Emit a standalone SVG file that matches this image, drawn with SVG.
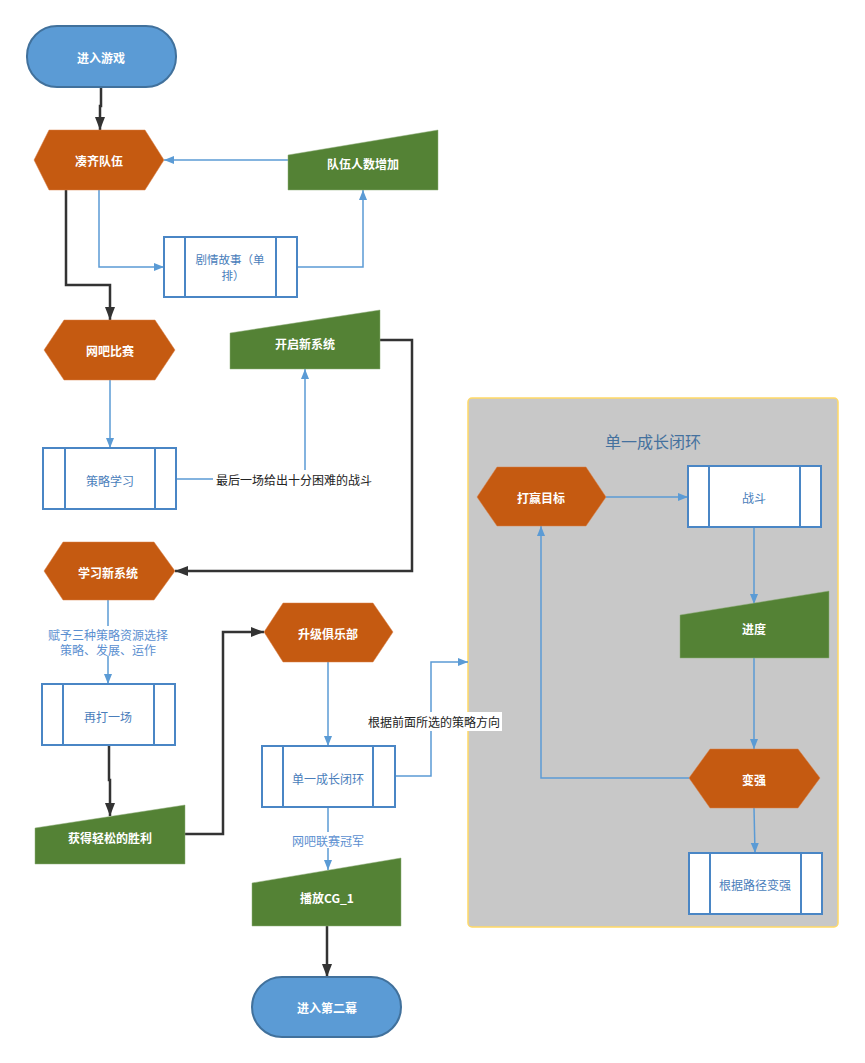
<svg xmlns="http://www.w3.org/2000/svg" width="865" height="1063" viewBox="0 0 865 1063">
<style>
text{font-family:"Noto Sans CJK SC","Noto Sans",sans-serif;font-size:12px;text-anchor:middle;dominant-baseline:central}
.term{fill:#5b9bd5;stroke:#41719c;stroke-width:2}
.hex{fill:#c55a11;stroke:#d9804a;stroke-width:0.5}
.man{fill:#548235;stroke:#8fad7a;stroke-width:0.5}
.box{fill:#fff;stroke:#4a86c5;stroke-width:2}
.wt{fill:#fff;font-weight:bold}
.bt{fill:#4a7ebb}
.lb{fill:#5b8fd0}
.kt{fill:#222}
.blue{fill:none;stroke:#5b9bd5;stroke-width:1.5}
.black{fill:none;stroke:#333;stroke-width:2.5}
.bg{fill:#fff}
</style>
<defs>
<marker id="ab" markerUnits="userSpaceOnUse" markerWidth="10" markerHeight="10" refX="10" refY="5" orient="auto"><path d="M0,1 L10,5 L0,9 z" fill="#5b9bd5"/></marker>
<marker id="ak" markerUnits="userSpaceOnUse" markerWidth="13" markerHeight="12" refX="13" refY="6" orient="auto"><path d="M0,1 L13,6 L0,11 z" fill="#333"/></marker>
</defs>
<rect width="865" height="1063" fill="#fff"/>
<g id="container">
<rect x="468" y="398" width="370" height="529" rx="4" fill="#c8c8c8" stroke="#ffd966" stroke-width="1.5"/>
<text x="653" y="441" style="font-size:16px;fill:#44719e">单一成长闭环</text>
</g>
<g id="connectors">
<path class="black" d="M101,87 V106 H100 V130" marker-end="url(#ak)"/>
<path class="black" d="M66,190 V285 H110 V320" marker-end="url(#ak)"/>
<path class="black" d="M380,340 H412 V571 H175" marker-end="url(#ak)"/>
<path class="black" d="M109,745 V780 H110 V816" marker-end="url(#ak)"/>
<path class="black" d="M185,834 H223 V632 H264" marker-end="url(#ak)"/>
<path class="black" d="M327,926 V977" marker-end="url(#ak)"/>
<path class="blue" d="M288,160 H164" marker-end="url(#ab)"/>
<path class="blue" d="M99,190 V267 H164" marker-end="url(#ab)"/>
<path class="blue" d="M297,267 H363 V190" marker-end="url(#ab)"/>
<path class="blue" d="M110,380 V448" marker-end="url(#ab)"/>
<path class="blue" d="M176,479 H305 V369" marker-end="url(#ab)"/>
<path class="blue" d="M108,600 V684" marker-end="url(#ab)"/>
<path class="blue" d="M328,662 V746" marker-end="url(#ab)"/>
<path class="blue" d="M395,776 H431 V662 H468" marker-end="url(#ab)"/>
<path class="blue" d="M328,807 V870" marker-end="url(#ab)"/>
<path class="blue" d="M606,497 H688" marker-end="url(#ab)"/>
<path class="blue" d="M754,527 V604" marker-end="url(#ab)"/>
<path class="blue" d="M754,658 V749" marker-end="url(#ab)"/>
<path class="blue" d="M689,778 H541 V526" marker-end="url(#ab)"/>
<path class="blue" d="M754,808 L755,853" marker-end="url(#ab)"/>
<rect class="bg" x="213" y="470" width="161" height="18"/>
<text class="kt" x="294" y="479">最后一场给出十分困难的战斗</text>
<rect class="bg" x="48" y="626" width="121" height="30"/>
<text class="lb" x="108" y="634">赋予三种策略资源选择</text>
<text class="lb" x="108" y="649">策略、发展、运作</text>
<rect class="bg" x="366" y="712" width="136" height="19"/>
<text class="kt" x="434" y="721">根据前面所选的策略方向</text>
<rect class="bg" x="290" y="832" width="76" height="16"/>
<text class="lb" x="328" y="840">网吧联赛冠军</text>
</g>
<g id="n-start">
<rect class="term" x="27" y="26" width="149" height="61" rx="30"/>
<text class="wt" x="101" y="57">进入游戏</text>
</g>
<g id="n-team">
<polygon class="hex" points="34,160 49,130 145,130 164,160 145,190 49,190"/>
<text class="wt" x="99" y="160">凑齐队伍</text>
</g>
<g id="n-teamup">
<polygon class="man" points="288,155 438,130 438,190 288,190"/>
<text class="wt" x="363" y="163">队伍人数增加</text>
</g>
<g id="n-story">
<rect class="box" x="164" y="237" width="133" height="60"/>
<path class="box" d="M185,237 V297 M276,237 V297"/>
<text class="bt" x="230" y="259" style="font-size:11.5px">剧情故事（单</text>
<text class="bt" x="233" y="275" style="font-size:11.5px">排）</text>
</g>
<g id="n-netbar">
<polygon class="hex" points="44,350 64,320 155,320 175,350 155,380 64,380"/>
<text class="wt" x="110" y="350">网吧比赛</text>
</g>
<g id="n-newsys">
<polygon class="man" points="230,333 380,310 380,369 230,369"/>
<text class="wt" x="305" y="343">开启新系统</text>
</g>
<g id="n-strategy">
<rect class="box" x="43" y="448" width="133" height="61"/>
<path class="box" d="M65,448 V509 M155,448 V509"/>
<text class="bt" x="110" y="480">策略学习</text>
</g>
<g id="n-learn">
<polygon class="hex" points="44,571 63,542 154,542 175,571 154,600 63,600"/>
<text class="wt" x="108" y="572">学习新系统</text>
</g>
<g id="n-again">
<rect class="box" x="42" y="684" width="133" height="61"/>
<path class="box" d="M63,684 V745 M154,684 V745"/>
<text class="bt" x="108" y="716">再打一场</text>
</g>
<g id="n-win">
<polygon class="man" points="35,828 185,805 185,864 35,864"/>
<text class="wt" x="110" y="837">获得轻松的胜利</text>
</g>
<g id="n-club">
<polygon class="hex" points="264,632 283,603 373,603 393,632 373,662 283,662"/>
<text class="wt" x="328" y="633">升级俱乐部</text>
</g>
<g id="n-loop">
<rect class="box" x="262" y="746" width="133" height="61"/>
<path class="box" d="M283,746 V807 M373,746 V807"/>
<text class="bt" x="328" y="778">单一成长闭环</text>
</g>
<g id="n-cg">
<polygon class="man" points="252,883 401,858 401,926 252,926"/>
<text class="wt" x="327" y="897">播放CG_1</text>
</g>
<g id="n-end">
<rect class="term" x="252" y="977" width="149" height="60" rx="30"/>
<text class="wt" x="327" y="1007">进入第二幕</text>
</g>
<g id="n-target">
<polygon class="hex" points="477,497 497,467 586,467 606,497 586,526 497,526"/>
<text class="wt" x="541" y="497">打赢目标</text>
</g>
<g id="n-fight">
<rect class="box" x="688" y="466" width="133" height="61"/>
<path class="box" d="M709,466 V527 M800,466 V527"/>
<text class="bt" x="754" y="497">战斗</text>
</g>
<g id="n-progress">
<polygon class="man" points="680,615 829,591 829,658 680,658"/>
<text class="wt" x="754" y="628">进度</text>
</g>
<g id="n-stronger">
<polygon class="hex" points="689,778 710,749 798,749 820,778 798,808 710,808"/>
<text class="wt" x="754" y="779">变强</text>
</g>
<g id="n-path">
<rect class="box" x="689" y="853" width="133" height="61"/>
<path class="box" d="M710,853 V914 M801,853 V914"/>
<text class="bt" x="755" y="884">根据路径变强</text>
</g>
</svg>
